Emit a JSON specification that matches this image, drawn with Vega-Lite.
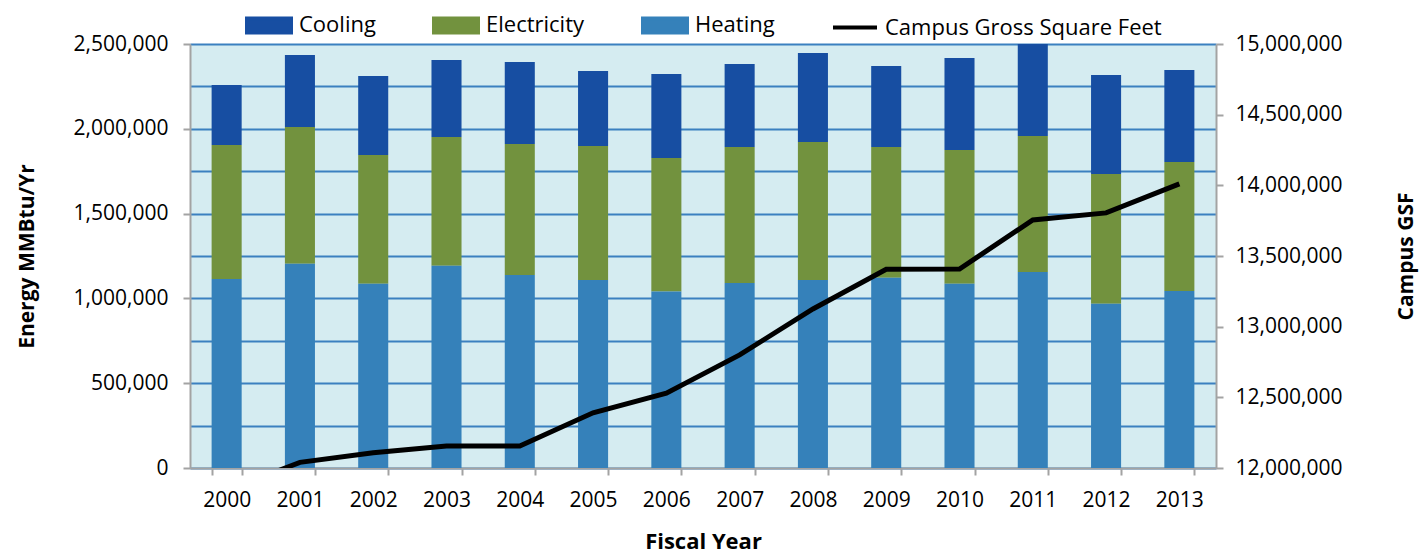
{
  "$schema": "https://vega.github.io/schema/vega-lite/v6.json",
  "width": 1026,
  "height": 424,
  "autosize": {"type": "none"},
  "padding": {"left": 190, "top": 44, "right": 203, "bottom": 88},
  "background": "white",
  "config": {
    "view": {"fill": "#d5ecf1", "stroke": null},
    "font": "Open Sans",
    "axis": {
      "domainColor": "#a3a3a3",
      "domainWidth": 2,
      "tickColor": "#a3a3a3",
      "tickWidth": 2,
      "tickSize": 7,
      "labelColor": "#000000",
      "labelFont": "Open Sans",
      "labelFontSize": 21,
      "titleFont": "Open Sans",
      "titleFontSize": 21,
      "titleFontWeight": "bold",
      "titleColor": "#000000"
    },
    "legend": {
      "labelFont": "Open Sans",
      "labelFontSize": 22,
      "labelColor": "#000000",
      "layout": {"top": {"anchor": "middle"}}
    }
  },
  "data": {
    "values": [
      {"Year": "2000", "Heating": 1114000, "Electricity": 790000, "Cooling": 354000, "GSF": 11840000},
      {"Year": "2001", "Heating": 1205000, "Electricity": 806000, "Cooling": 424000, "GSF": 12040000},
      {"Year": "2002", "Heating": 1087000, "Electricity": 759000, "Cooling": 465000, "GSF": 12108000},
      {"Year": "2003", "Heating": 1193000, "Electricity": 759000, "Cooling": 454000, "GSF": 12156000},
      {"Year": "2004", "Heating": 1138000, "Electricity": 772000, "Cooling": 484000, "GSF": 12156000},
      {"Year": "2005", "Heating": 1108000, "Electricity": 791000, "Cooling": 442000, "GSF": 12391000},
      {"Year": "2006", "Heating": 1040000, "Electricity": 788000, "Cooling": 495000, "GSF": 12529000},
      {"Year": "2007", "Heating": 1091000, "Electricity": 802000, "Cooling": 489000, "GSF": 12800000},
      {"Year": "2008", "Heating": 1108000, "Electricity": 814000, "Cooling": 525000, "GSF": 13125000},
      {"Year": "2009", "Heating": 1122000, "Electricity": 771000, "Cooling": 477000, "GSF": 13406000},
      {"Year": "2010", "Heating": 1087000, "Electricity": 788000, "Cooling": 542000, "GSF": 13408000},
      {"Year": "2011", "Heating": 1156000, "Electricity": 802000, "Cooling": 542000, "GSF": 13755000},
      {"Year": "2012", "Heating": 969000, "Electricity": 764000, "Cooling": 584000, "GSF": 13805000},
      {"Year": "2013", "Heating": 1044000, "Electricity": 760000, "Cooling": 543000, "GSF": 14010000}
    ]
  },
  "encoding": {
    "x": {
      "field": "Year",
      "type": "ordinal",
      "scale": {"paddingInner": 0.59, "paddingOuter": 0.295},
      "axis": {
        "labelAngle": 0,
        "tickBand": "extent",
        "labelPadding": 14,
        "title": "Fiscal Year",
        "titleFontSize": 22,
        "titlePadding": 21
      }
    }
  },
  "layer": [
    {
      "transform": [{"fold": ["Cooling", "Electricity", "Heating"], "as": ["key", "value"]}],
      "mark": {"type": "bar"},
      "encoding": {
        "y": {
          "field": "value",
          "type": "quantitative",
          "stack": "zero",
          "scale": {"domain": [0, 2500000], "nice": false},
          "axis": {
            "title": "Energy MMBtu/Yr",
            "values": [0, 250000, 500000, 750000, 1000000, 1250000, 1500000, 1750000, 2000000, 2250000, 2500000],
            "labelExpr": "datum.value % 500000 === 0 ? format(datum.value, ',') : ''",
            "tickOpacity": {"condition": {"test": "datum.value % 500000 === 0", "value": 1}, "value": 0},
            "grid": true,
            "gridColor": "#3b80c0",
            "gridWidth": 2,
            "labelPadding": 15,
            "titlePadding": 36
          }
        },
        "color": {
          "field": "key",
          "type": "nominal",
          "scale": {
            "domain": ["Cooling", "Electricity", "Heating", "Campus Gross Square Feet"],
            "range": ["#174ea2", "#72923e", "#3581ba", "#000000"]
          },
          "legend": {
            "title": null,
            "orient": "top",
            "direction": "horizontal",
            "offset": 3,
            "columnPadding": 50,
            "labelOffset": 6,
            "labelLimit": 500,
            "symbolSize": 1936,
            "encode": {
              "symbols": {
                "update": {
                  "shape": {"signal": "datum.value === 'Campus Gross Square Feet' ? 'M-1,0H1' : 'M-1,-0.32H1V0.32H-1Z'"},
                  "fill": {"signal": "datum.value === 'Campus Gross Square Feet' ? 'transparent' : scale('color', datum.value)"},
                  "stroke": {"signal": "datum.value === 'Campus Gross Square Feet' ? '#000000' : 'transparent'"},
                  "strokeWidth": {"value": 4},
                  "opacity": {"value": 1}
                }
              }
            }
          }
        },
        "order": {"field": "key", "sort": "descending"}
      }
    },
    {
      "mark": {"type": "line", "color": "#000000", "strokeWidth": 5, "clip": true},
      "encoding": {
        "y": {
          "field": "GSF",
          "type": "quantitative",
          "scale": {"domain": [12000000, 15000000], "nice": false, "zero": false},
          "axis": {
            "orient": "right",
            "title": "Campus GSF",
            "titleAngle": 270,
            "values": [12000000, 12500000, 13000000, 13500000, 14000000, 14500000, 15000000],
            "labelExpr": "format(datum.value, ',')",
            "grid": false,
            "labelPadding": 12,
            "titlePadding": 75
          }
        },
        "color": {"datum": "Campus Gross Square Feet"}
      }
    }
  ],
  "resolve": {"scale": {"y": "independent"}}
}
